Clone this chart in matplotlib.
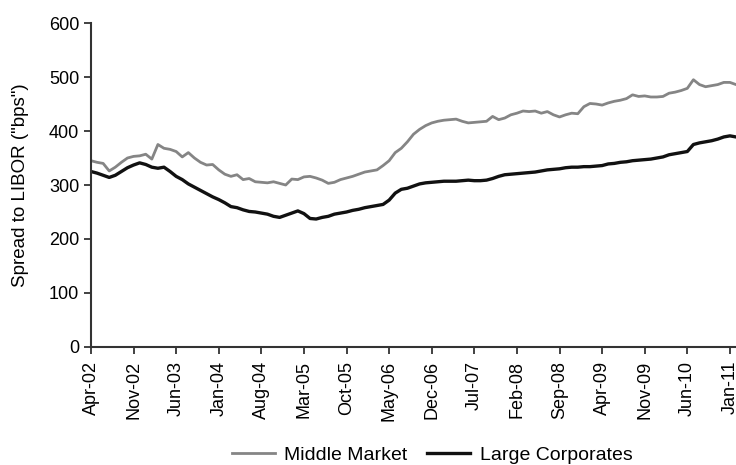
import matplotlib
matplotlib.use("Agg")
import matplotlib.pyplot as plt
import numpy as np

plt.rcParams['font.family'] = ['Liberation Sans', 'DejaVu Sans']

# monthly spreads, Apr-02 .. Feb-11 (bps over LIBOR)
middle_market = [
    345, 342, 340, 326, 333, 342, 350, 353, 354, 357,
    348, 375, 368, 366, 362, 352, 360, 350, 342, 337,
    338, 328, 320, 316, 319, 310, 312, 306, 305, 304,
    306, 303, 300, 311, 310, 315, 316, 313, 309, 303,
    305, 310, 313, 316, 320, 324, 326, 328, 336, 345,
    360, 368, 380, 394, 403, 410, 415, 418, 420, 421,
    422, 418, 415, 416, 417, 418, 427, 421, 424, 430,
    433, 437, 436, 437, 433, 436, 430, 426, 430, 433,
    432, 445, 451, 450, 448, 452, 455, 457, 460, 467,
    464, 465, 463, 463, 464, 470, 472, 475, 479, 495,
    486, 482, 484, 486, 490, 490, 486,
]
large_corporates = [
    325, 322, 318, 314, 318, 325, 332, 337, 341, 338,
    333, 331, 333, 325, 316, 310, 302, 296, 290, 284,
    278, 273, 267, 260, 258, 254, 251, 250, 248, 246,
    242, 240, 244, 248, 252, 247, 238, 237, 240, 242,
    246, 248, 250, 253, 255, 258, 260, 262, 264, 272,
    285, 292, 294, 298, 302, 304, 305, 306, 307, 307,
    307, 308, 309, 308, 308, 309, 312, 316, 319, 320,
    321, 322, 323, 324, 326, 328, 329, 330, 332, 333,
    333, 334, 334, 335, 336, 339, 340, 342, 343, 345,
    346, 347, 348, 350, 352, 356, 358, 360, 362, 375,
    378, 380, 382, 385, 389, 391, 389,
]
tick_labels = ['Apr-02', 'Nov-02', 'Jun-03', 'Jan-04', 'Aug-04', 'Mar-05',
               'Oct-05', 'May-06', 'Dec-06', 'Jul-07', 'Feb-08', 'Sep-08',
               'Apr-09', 'Nov-09', 'Jun-10', 'Jan-11']

months = np.arange(len(middle_market))

fig = plt.figure(figsize=(7.36, 4.65), dpi=100)
ax = fig.add_axes([0.1236, 0.2538, 0.8764, 0.6967])

ax.plot(months, middle_market, color='#858585', lw=2.0, label='Middle Market')
ax.plot(months, large_corporates, color='#111111', lw=2.4, label='Large Corporates')

ax.set_xlim(0, len(months) - 1)
ax.set_ylim(0, 600)
ax.set_yticks(range(0, 601, 100))
ax.set_xticks(np.arange(len(tick_labels)) * 7)
ax.set_xticklabels(tick_labels, rotation=90)
ax.tick_params(labelsize=13, length=5, width=1.3, color='#333333')
ax.tick_params(axis='x', pad=5)
ax.set_ylabel('Spread to LIBOR ("bps")', fontsize=13.5, labelpad=14)

for s in ['top', 'right']:
    ax.spines[s].set_visible(False)
for s in ['left', 'bottom']:
    ax.spines[s].set_linewidth(1.5)
    ax.spines[s].set_color('#333333')

fig.legend(loc='lower center', bbox_to_anchor=(0.587, -0.035), ncol=2,
           frameon=False, fontsize=14, handlelength=2.2, columnspacing=1.0,
           handletextpad=0.5)

fig.savefig('out.png', dpi=100)
